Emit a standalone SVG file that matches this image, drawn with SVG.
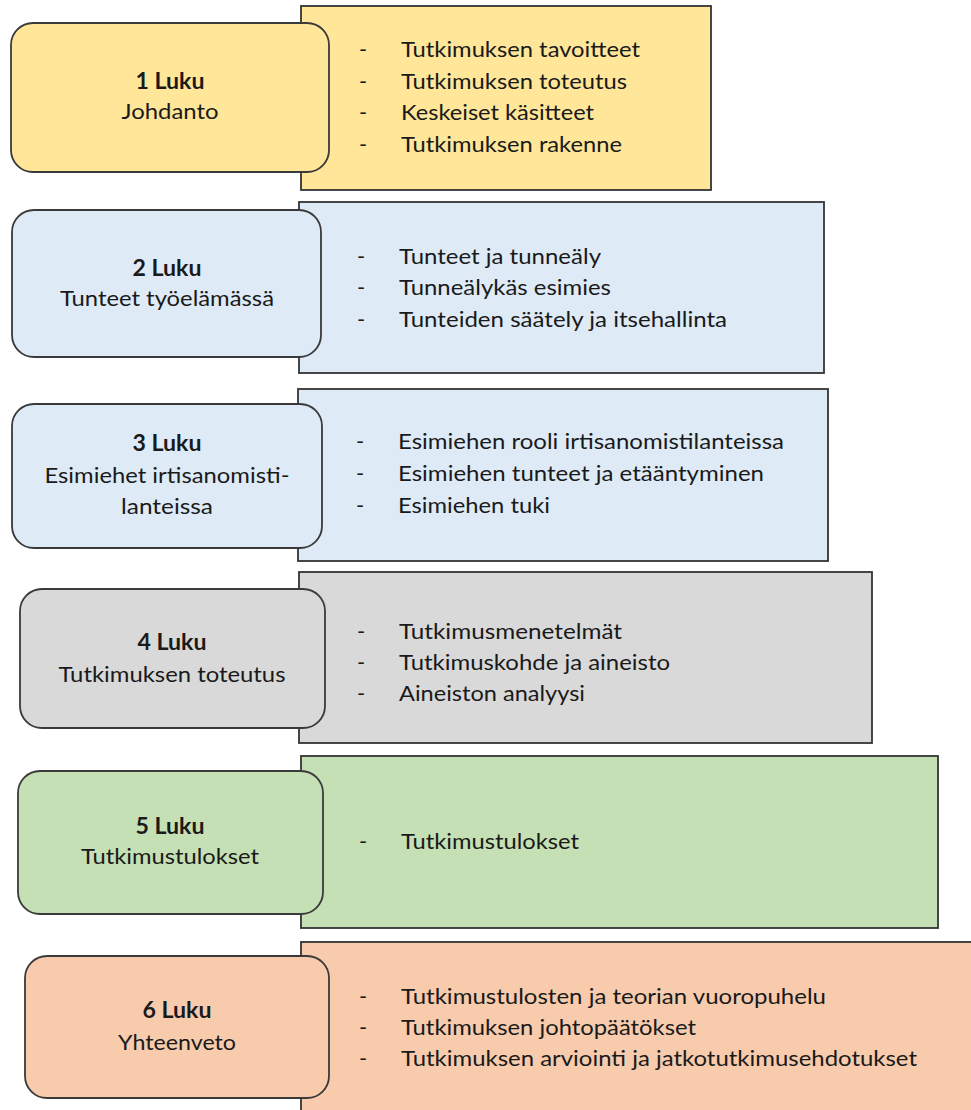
<svg xmlns="http://www.w3.org/2000/svg" width="971" height="1110" viewBox="0 0 971 1110">
  <style>
    .panel { stroke: #333333; stroke-width: 1.8; }
    .chip { stroke: #3a3a3a; stroke-width: 1.8; }
    .yellow { fill: #FFE699; }
    .blue { fill: #DEEBF7; }
    .gray { fill: #D9D9D9; }
    .green { fill: #C5E0B4; }
    .peach { fill: #F8CBAD; }
    text { font-family: Lato, "Open Sans", sans-serif; font-size: 22px; fill: #1a1a1a; }
    .title { font-weight: bold; text-anchor: middle; }
    .sub { text-anchor: middle; }
  </style>
  <rect width="971" height="1110" fill="#ffffff"/>

  <!-- Chapter 1 -->
  <g id="luku1">
    <rect class="panel yellow" x="301" y="6" width="410" height="184"/>
    <rect class="chip yellow" x="11" y="23" width="318" height="149" rx="22" ry="22"/>
    <text class="title" x="170" y="89" textLength="69" lengthAdjust="spacingAndGlyphs">1 Luku</text>
    <text class="sub" x="170" y="119" textLength="97" lengthAdjust="spacingAndGlyphs">Johdanto</text>
    <text x="359" y="57">-</text>
    <text x="359" y="89">-</text>
    <text x="359" y="120">-</text>
    <text x="359" y="152">-</text>
    <text x="401" y="57" textLength="239" lengthAdjust="spacingAndGlyphs">Tutkimuksen tavoitteet</text>
    <text x="401" y="89" textLength="226" lengthAdjust="spacingAndGlyphs">Tutkimuksen toteutus</text>
    <text x="401" y="120" textLength="193" lengthAdjust="spacingAndGlyphs">Keskeiset käsitteet</text>
    <text x="401" y="152" textLength="221" lengthAdjust="spacingAndGlyphs">Tutkimuksen rakenne</text>
  </g>

  <!-- Chapter 2 -->
  <g id="luku2">
    <rect class="panel blue" x="299" y="202" width="525" height="171"/>
    <rect class="chip blue" x="12" y="210" width="309" height="147" rx="22" ry="22"/>
    <text class="title" x="167" y="276" textLength="69" lengthAdjust="spacingAndGlyphs">2 Luku</text>
    <text class="sub" x="167" y="306" textLength="214" lengthAdjust="spacingAndGlyphs">Tunteet työelämässä</text>
    <text x="357" y="264">-</text>
    <text x="357" y="295">-</text>
    <text x="357" y="327">-</text>
    <text x="399" y="264" textLength="202" lengthAdjust="spacingAndGlyphs">Tunteet ja tunneäly</text>
    <text x="399" y="295" textLength="212" lengthAdjust="spacingAndGlyphs">Tunneälykäs esimies</text>
    <text x="399" y="327" textLength="328" lengthAdjust="spacingAndGlyphs">Tunteiden säätely ja itsehallinta</text>
  </g>

  <!-- Chapter 3 -->
  <g id="luku3">
    <rect class="panel blue" x="298" y="389" width="530" height="172"/>
    <rect class="chip blue" x="12" y="404" width="310" height="144" rx="22" ry="22"/>
    <text class="title" x="167" y="451" textLength="69" lengthAdjust="spacingAndGlyphs">3 Luku</text>
    <text class="sub" x="167" y="483" textLength="245" lengthAdjust="spacingAndGlyphs">Esimiehet irtisanomisti-</text>
    <text class="sub" x="167" y="514" textLength="92" lengthAdjust="spacingAndGlyphs">lanteissa</text>
    <text x="356" y="449">-</text>
    <text x="356" y="481">-</text>
    <text x="356" y="513">-</text>
    <text x="398" y="449" textLength="386" lengthAdjust="spacingAndGlyphs">Esimiehen rooli irtisanomistilanteissa</text>
    <text x="398" y="481" textLength="366" lengthAdjust="spacingAndGlyphs">Esimiehen tunteet ja etääntyminen</text>
    <text x="398" y="513" textLength="152" lengthAdjust="spacingAndGlyphs">Esimiehen tuki</text>
  </g>

  <!-- Chapter 4 -->
  <g id="luku4">
    <rect class="panel gray" x="299" y="572" width="573" height="171"/>
    <rect class="chip gray" x="20" y="589" width="305" height="139" rx="22" ry="22"/>
    <text class="title" x="172" y="650" textLength="69" lengthAdjust="spacingAndGlyphs">4 Luku</text>
    <text class="sub" x="172" y="682" textLength="227" lengthAdjust="spacingAndGlyphs">Tutkimuksen toteutus</text>
    <text x="357" y="639">-</text>
    <text x="357" y="670">-</text>
    <text x="357" y="701">-</text>
    <text x="399" y="639" textLength="223" lengthAdjust="spacingAndGlyphs">Tutkimusmenetelmät</text>
    <text x="399" y="670" textLength="271" lengthAdjust="spacingAndGlyphs">Tutkimuskohde ja aineisto</text>
    <text x="399" y="701" textLength="186" lengthAdjust="spacingAndGlyphs">Aineiston analyysi</text>
  </g>

  <!-- Chapter 5 -->
  <g id="luku5">
    <rect class="panel green" x="301" y="756" width="637" height="172"/>
    <rect class="chip green" x="18" y="771" width="305" height="143" rx="22" ry="22"/>
    <text class="title" x="170" y="834" textLength="69" lengthAdjust="spacingAndGlyphs">5 Luku</text>
    <text class="sub" x="170" y="864" textLength="178" lengthAdjust="spacingAndGlyphs">Tutkimustulokset</text>
    <text x="359" y="849">-</text>
    <text x="401" y="849" textLength="178" lengthAdjust="spacingAndGlyphs">Tutkimustulokset</text>
  </g>

  <!-- Chapter 6 -->
  <g id="luku6">
    <rect class="panel peach" x="301" y="942" width="690" height="190"/>
    <rect class="chip peach" x="25" y="956" width="304" height="142" rx="22" ry="22"/>
    <text class="title" x="177" y="1018" textLength="69" lengthAdjust="spacingAndGlyphs">6 Luku</text>
    <text class="sub" x="177" y="1050" textLength="118" lengthAdjust="spacingAndGlyphs">Yhteenveto</text>
    <text x="359" y="1004">-</text>
    <text x="359" y="1035">-</text>
    <text x="359" y="1066">-</text>
    <text x="401" y="1004" textLength="425" lengthAdjust="spacingAndGlyphs">Tutkimustulosten ja teorian vuoropuhelu</text>
    <text x="401" y="1035" textLength="295" lengthAdjust="spacingAndGlyphs">Tutkimuksen johtopäätökset</text>
    <text x="401" y="1066" textLength="516" lengthAdjust="spacingAndGlyphs">Tutkimuksen arviointi ja jatkotutkimusehdotukset</text>
  </g>

  <!-- chapters stand side by side; nothing links them -->
  <g id="connectors"></g>
</svg>
